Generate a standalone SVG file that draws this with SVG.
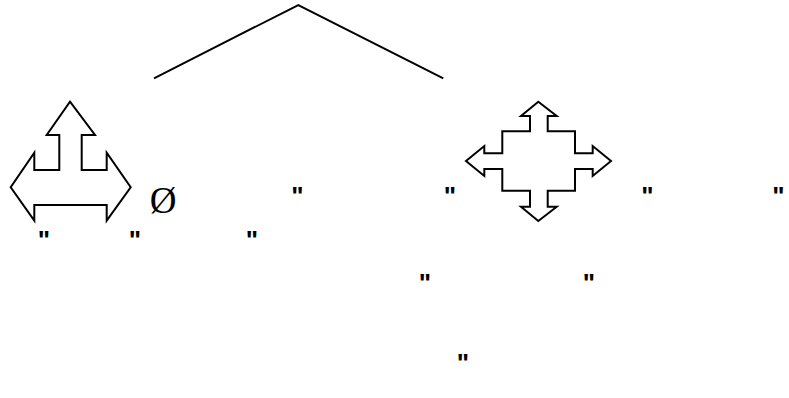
<svg xmlns="http://www.w3.org/2000/svg" width="789" height="398" viewBox="0 0 789 398">
<style>
.shape{fill:#fff;stroke:#000;stroke-width:2;stroke-linejoin:miter}
.line{fill:none;stroke:#000;stroke-width:2}
.q{font-family:"Liberation Sans",Arial,sans-serif;font-size:26px;font-weight:bold;fill:#000;text-anchor:middle}
.sym{font-family:"Liberation Serif","Times New Roman",serif;font-size:37px;fill:#000;text-anchor:middle}
</style>
<rect width="789" height="398" fill="#fff"/>
<g id="connectors">
<polyline class="line" points="154,78.3 298.3,5 443.3,78.3"/>
</g>
<g id="node-left">
<polygon class="shape" points="70,101.7 95,135 81.7,135 81.7,170 106.7,170 106.7,152.7 130.7,187.3 106.7,220.7 106.7,205 34.3,205 34.3,220.7 10.7,187.3 34.3,152.7 34.3,170 59.3,170 59.3,135 46.7,135"/>
</g>
<g id="node-right">
<polygon class="shape" points="538.3,101.7 556.7,116 547.7,116 547.7,131.3 575,131.3 575,153.3 592.7,153.3 592.7,146 611,161 592.7,176 592.7,169 575,169 575,190.7 547.7,190.7 547.7,206.7 556.7,206.7 538.3,221 521,206.7 530,206.7 530,190.7 502.3,190.7 502.3,169 484.3,169 484.3,176 466,161 484.3,146 484.3,153.3 502.3,153.3 502.3,131.3 530,131.3 530,116 521,116"/>
</g>
<g id="labels">
<text class="sym" x="163" y="213">Ø</text>
<text class="q" x="44" y="248.5">"</text>
<text class="q" x="135" y="248.5">"</text>
<text class="q" x="252" y="248.5">"</text>
<text class="q" x="297.3" y="204.5">"</text>
<text class="q" x="450" y="204.5">"</text>
<text class="q" x="647.3" y="204.5">"</text>
<text class="q" x="778.3" y="204.5">"</text>
<text class="q" x="425" y="292">"</text>
<text class="q" x="589" y="292">"</text>
<text class="q" x="463" y="372">"</text>
</g>
</svg>
